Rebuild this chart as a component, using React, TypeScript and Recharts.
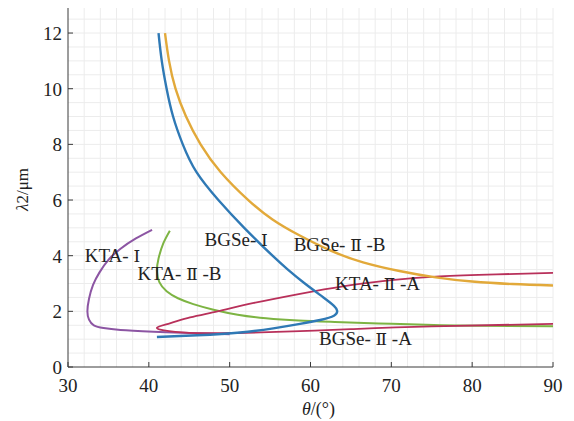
import React from "react";
import {
  LineChart,
  Line,
  XAxis,
  YAxis,
  CartesianGrid,
  ReferenceDot,
} from "recharts";

type Pt = { x: number; y: number };

// theta (deg), lambda2 (um)
const bgse1: Pt[] = [
  { x: 41.2, y: 12 }, { x: 41.6, y: 11 }, { x: 42.2, y: 10 }, { x: 43.0, y: 9 },
  { x: 44.2, y: 8 }, { x: 45.9, y: 7 }, { x: 48.6, y: 6 }, { x: 51.8, y: 5 },
  { x: 55.3, y: 4 }, { x: 57.2, y: 3.5 }, { x: 59.3, y: 3 }, { x: 61.6, y: 2.5 },
  { x: 62.9, y: 2.2 }, { x: 63.3, y: 2.02 }, { x: 62.9, y: 1.84 }, { x: 61.2, y: 1.69 },
  { x: 58.7, y: 1.55 }, { x: 55.4, y: 1.39 }, { x: 51.3, y: 1.24 }, { x: 46, y: 1.14 },
  { x: 41.0, y: 1.08 },
];

const bgse2b: Pt[] = [
  { x: 42.0, y: 12 }, { x: 42.5, y: 11 }, { x: 43.3, y: 10 }, { x: 44.6, y: 9 },
  { x: 46.4, y: 8 }, { x: 48.9, y: 7 }, { x: 52.3, y: 6 }, { x: 55.3, y: 5.3 },
  { x: 58.5, y: 4.75 }, { x: 62.5, y: 4.18 }, { x: 66.5, y: 3.76 }, { x: 71, y: 3.45 },
  { x: 75.5, y: 3.22 }, { x: 80, y: 3.07 }, { x: 85, y: 2.98 }, { x: 90, y: 2.93 },
];

const kta2a: Pt[] = [
  { x: 90, y: 1.55 }, { x: 75, y: 1.46 }, { x: 65, y: 1.36 }, { x: 58.7, y: 1.29 },
  { x: 52, y: 1.23 }, { x: 46, y: 1.22 }, { x: 42.5, y: 1.29 }, { x: 41.0, y: 1.41 },
  { x: 42.6, y: 1.57 }, { x: 45.1, y: 1.78 }, { x: 48.5, y: 2.0 }, { x: 53, y: 2.3 },
  { x: 58.7, y: 2.63 }, { x: 64, y: 2.9 }, { x: 70, y: 3.12 }, { x: 76, y: 3.26 },
  { x: 83, y: 3.33 }, { x: 90, y: 3.38 },
];

const kta2b: Pt[] = [
  { x: 42.6, y: 4.9 }, { x: 41.8, y: 4.45 }, { x: 41.2, y: 3.9 }, { x: 41.0, y: 3.45 },
  { x: 41.3, y: 3.05 }, { x: 42.2, y: 2.72 }, { x: 43.6, y: 2.47 }, { x: 45.5, y: 2.26 },
  { x: 48, y: 2.06 }, { x: 51, y: 1.88 }, { x: 54.5, y: 1.75 }, { x: 58.5, y: 1.67 },
  { x: 63, y: 1.62 }, { x: 70, y: 1.55 }, { x: 78, y: 1.49 }, { x: 90, y: 1.46 },
];

const kta1: Pt[] = [
  { x: 40.4, y: 4.93 }, { x: 38.4, y: 4.62 }, { x: 36.5, y: 4.25 }, { x: 35.0, y: 3.85 },
  { x: 33.9, y: 3.4 }, { x: 33.1, y: 2.95 }, { x: 32.6, y: 2.45 }, { x: 32.4, y: 2.0 },
  { x: 32.6, y: 1.7 }, { x: 33.2, y: 1.5 }, { x: 34.4, y: 1.4 }, { x: 36.5, y: 1.33 },
  { x: 40.6, y: 1.27 }, { x: 45, y: 1.22 }, { x: 50, y: 1.18 },
];

const xTicks = [30, 40, 50, 60, 70, 80, 90];
const yTicks = [0, 2, 4, 6, 8, 10, 12];

// curve labels: text, theta, lambda
const curveLabels: [string, number, number][] = [
  ["KTA- Ⅰ", 35.5, 4.0],
  ["KTA- Ⅱ -B", 43.8, 3.38],
  ["BGSe- Ⅰ", 50.8, 4.57],
  ["BGSe- Ⅱ -B", 63.6, 4.42],
  ["KTA- Ⅱ -A", 68.3, 3.02],
  ["BGSe- Ⅱ -A", 66.8, 1.04],
];

const serif = "'Liberation Serif', 'Times New Roman', serif";
const numeralFont = "'DejaVu Serif', 'Liberation Serif', serif";
const axisColor = "#3a3a3a";

const gridX: number[] = [];
for (let v = 32; v <= 90; v += 2) gridX.push(v);
const gridY: number[] = [];
for (let v = 0.5; v <= 12.5; v += 0.5) gridY.push(v);

function XTick({ x, y, payload }: any) {
  return (
    <g>
      <line x1={x} y1={y} x2={x} y2={y - 5} stroke={axisColor} />
      <text x={x} y={y + 25} textAnchor="middle" fontSize={19} style={{ fontFamily: serif }} fill="#222">
        {payload.value}
      </text>
    </g>
  );
}

function YTick({ x, y, payload }: any) {
  return (
    <g>
      <line x1={x} y1={y} x2={x + 5} y2={y} stroke={axisColor} />
      <text x={x - 6} y={y + 7} textAnchor="end" fontSize={19} style={{ fontFamily: serif }} fill="#222">
        {payload.value}
      </text>
    </g>
  );
}

function YTitle({ viewBox }: any) {
  const cy = viewBox.y + viewBox.height / 2 + 2;
  return (
    <text
      x={28}
      y={cy}
      transform={`rotate(-90, 28, ${cy})`}
      textAnchor="middle"
      fontSize={17}
      style={{ fontFamily: serif }}
      fill="#222"
    >
      <tspan fontStyle="italic">λ</tspan>2/μm
    </text>
  );
}

function XTitle({ viewBox }: any) {
  const cx = viewBox.x + viewBox.width / 2 + 8;
  return (
    <text x={cx} y={415} textAnchor="middle" fontSize={18} style={{ fontFamily: serif }} fill="#222">
      <tspan fontStyle="italic">θ</tspan>/(°)
    </text>
  );
}

// split the roman numerals out so they get a font that has them
function CurveLabel({ viewBox, text }: any) {
  const cx = viewBox.x + (viewBox.width || 0) / 2;
  const cy = viewBox.y + (viewBox.height || 0) / 2;
  const parts = text.split(/([ⅠⅡ])/).filter((p: string) => p !== "");
  return (
    <text
      x={cx}
      y={cy}
      dy="0.35em"
      textAnchor="middle"
      fontSize={19}
      style={{ fontFamily: serif }}
      fill="#222"
    >
      {parts.map((p: string, i: number) =>
        p === "Ⅰ" || p === "Ⅱ" ? (
          <tspan key={i} style={{ fontFamily: numeralFont }} fontSize={17}>
            {p}
          </tspan>
        ) : (
          <tspan key={i}>{p}</tspan>
        )
      )}
    </text>
  );
}

const series: [Pt[], string, number][] = [
  [kta1, "#8c55a3", 2],
  [kta2b, "#7db443", 2],
  [kta2a, "#b8305a", 1.8],
  [bgse2b, "#e2a93a", 2.4],
  [bgse1, "#2f79b5", 2.4],
];

export default function App() {
  return (
    <div style={{ position: "absolute", left: 0, top: 0, width: 574, height: 421, background: "#fff" }}>
      <LineChart width={574} height={421} margin={{ top: 8, right: 21, left: 0, bottom: 0 }}>
        <CartesianGrid
          stroke="#ececec"
          strokeWidth={1}
          horizontalValues={gridY}
          verticalValues={gridX}
        />
        <XAxis
          type="number"
          dataKey="x"
          domain={[30, 90]}
          ticks={xTicks}
          allowDataOverflow
          height={54}
          tickSize={0}
          tickMargin={0}
          tickLine={false}
          tick={<XTick />}
          stroke={axisColor}
          interval={0}
          label={<XTitle />}
        />
        <YAxis
          type="number"
          dataKey="y"
          domain={[0, 12.9]}
          ticks={yTicks}
          allowDataOverflow
          width={68}
          tickSize={0}
          tickMargin={0}
          tickLine={false}
          tick={<YTick />}
          stroke={axisColor}
          interval={0}
          label={<YTitle />}
        />
        {series.map(([d, c, w], i) => (
          <Line
            key={i}
            data={d}
            dataKey="y"
            type="natural"
            stroke={c}
            strokeWidth={w}
            dot={false}
            activeDot={false}
            isAnimationActive={false}
          />
        ))}
        {curveLabels.map(([t, x, y]) => (
          <ReferenceDot
            key={t}
            x={x}
            y={y}
            r={0}
            stroke="none"
            fill="none"
            label={<CurveLabel text={t} />}
          />
        ))}
      </LineChart>
    </div>
  );
}
